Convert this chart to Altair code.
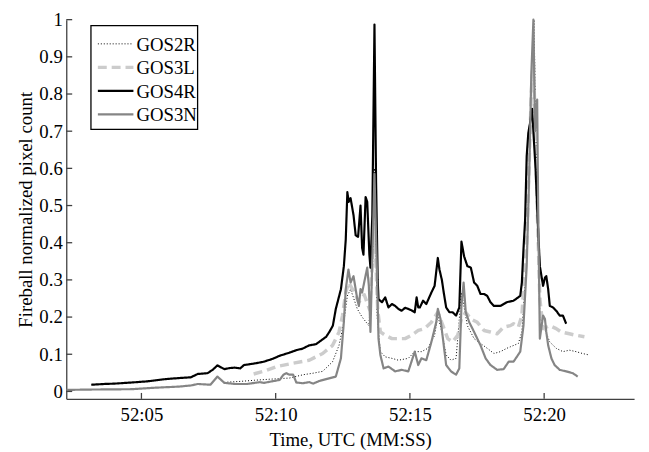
import altair as alt
import pandas as pd

# ---- data (time = seconds after 52:00 UTC, value = normalized pixel count) ----
SERIES = ["GOS2R", "GOS3L", "GOS4R", "GOS3N"]

GOS2R_T = [8.20, 8.68, 9.20, 9.80, 10.51, 11.03, 11.39, 11.75, 12.12, 12.36, 12.54, 12.67,
           12.79, 13.04, 13.22, 13.47, 13.60, 13.68, 13.78, 13.90, 14.08, 14.33, 14.57, 14.94,
           15.18, 15.43, 15.67, 15.92, 16.04, 16.19, 16.35, 16.53, 16.72, 16.92, 17.14, 17.39,
           17.63, 17.88, 18.13, 18.37, 18.61, 18.74, 19.04, 19.17, 19.35, 19.52, 19.62, 19.72,
           19.84, 20.21, 20.45, 20.70, 20.94, 21.19, 21.43, 21.68]
GOS2R_V = [0.025, 0.027, 0.030, 0.033, 0.036, 0.045, 0.049, 0.054, 0.080, 0.124, 0.186, 0.257,
           0.275, 0.222, 0.200, 0.177, 0.300, 0.600, 0.200, 0.107, 0.093, 0.089, 0.084, 0.089,
           0.107, 0.107, 0.116, 0.151, 0.204, 0.160, 0.098, 0.084, 0.089, 0.266, 0.177, 0.142,
           0.129, 0.116, 0.102, 0.107, 0.116, 0.120, 0.129, 0.160, 0.350, 0.800, 1.000, 0.600,
           0.200, 0.133, 0.116, 0.107, 0.111, 0.107, 0.102, 0.098]

GOS3L_T = [9.18, 9.60, 10.04, 10.65, 11.25, 11.75, 12.12, 12.36, 12.49, 12.61, 12.72, 12.90,
           13.10, 13.30, 13.50, 13.68, 13.80, 13.90, 14.08, 14.33, 14.57, 14.82, 15.06, 15.31,
           15.55, 15.80, 16.04, 16.23, 16.41, 16.59, 16.78, 16.92, 17.08, 17.27, 17.51, 17.76,
           18.00, 18.25, 18.49, 18.74, 18.86, 19.04, 19.17, 19.35, 19.52, 19.60, 19.74, 19.84,
           19.96, 20.21, 20.45, 20.63, 20.94, 21.19, 21.50]
GOS3L_V = [0.047, 0.055, 0.067, 0.076, 0.084, 0.102, 0.124, 0.160, 0.204, 0.266, 0.293, 0.270,
           0.240, 0.260, 0.220, 0.450, 0.220, 0.160, 0.151, 0.142, 0.142, 0.142, 0.151, 0.164,
           0.169, 0.186, 0.213, 0.177, 0.142, 0.133, 0.151, 0.195, 0.213, 0.195, 0.186, 0.164,
           0.160, 0.155, 0.173, 0.177, 0.182, 0.173, 0.204, 0.400, 0.800, 0.900, 0.500, 0.250,
           0.169, 0.177, 0.169, 0.160, 0.155, 0.151, 0.147]

GOS4R_T = [3.13, 3.60, 4.00, 4.63, 5.20, 5.88, 6.40, 6.84, 7.10, 7.46, 7.65, 7.83, 8.09, 8.30,
           8.46, 8.68, 8.82, 9.20, 9.56, 9.90, 10.15, 10.50, 10.77, 11.00, 11.25, 11.50, 11.75,
           11.88, 12.00, 12.13, 12.24, 12.43, 12.54, 12.61, 12.67, 12.72, 12.79, 12.90, 12.98,
           13.07, 13.16, 13.22, 13.27, 13.35, 13.41, 13.49, 13.53, 13.60, 13.68, 13.74, 13.80,
           13.83, 13.96, 14.08, 14.20, 14.33, 14.45, 14.57, 14.69, 14.82, 14.94, 15.06, 15.18,
           15.25, 15.31, 15.37, 15.49, 15.61, 15.80, 15.92, 16.04, 16.10, 16.19, 16.26, 16.35,
           16.47, 16.59, 16.72, 16.84, 16.92, 17.02, 17.14, 17.27, 17.39, 17.51, 17.63, 17.76,
           17.88, 18.00, 18.13, 18.37, 18.61, 18.86, 19.11, 19.17, 19.23, 19.29, 19.35, 19.41,
           19.47, 19.55, 19.68, 19.78, 19.84, 19.96, 20.03, 20.08, 20.15, 20.21, 20.33, 20.45,
           20.58, 20.70, 20.82]
GOS4R_V = [0.018, 0.020, 0.021, 0.024, 0.027, 0.033, 0.036, 0.038, 0.047, 0.049, 0.058, 0.070,
           0.060, 0.063, 0.064, 0.062, 0.071, 0.075, 0.080, 0.088, 0.096, 0.104, 0.111, 0.115,
           0.124, 0.127, 0.140, 0.147, 0.160, 0.177, 0.222, 0.275, 0.337, 0.408, 0.536, 0.510,
           0.520, 0.474, 0.420, 0.416, 0.500, 0.386, 0.368, 0.523, 0.510, 0.368, 0.333, 0.474,
           0.987, 0.563, 0.300, 0.248, 0.240, 0.253, 0.226, 0.235, 0.230, 0.222, 0.217, 0.225,
           0.222, 0.218, 0.213, 0.253, 0.226, 0.226, 0.244, 0.235, 0.266, 0.284, 0.359, 0.328,
           0.300, 0.266, 0.226, 0.213, 0.213, 0.204, 0.226, 0.403, 0.363, 0.337, 0.333, 0.293,
           0.284, 0.262, 0.262, 0.257, 0.240, 0.230, 0.230, 0.240, 0.244, 0.257, 0.293, 0.382,
           0.460, 0.633, 0.695, 0.720, 0.760, 0.600, 0.426, 0.337, 0.284, 0.306, 0.310, 0.275,
           0.230, 0.226, 0.217, 0.204, 0.204, 0.182]

GOS3N_T = [2.21, 3.00, 4.63, 5.50, 6.40, 6.84, 7.10, 7.57, 7.83, 8.09, 8.50, 8.93, 9.41, 9.56,
           10.15, 10.29, 10.40, 10.51, 10.65, 10.77, 11.00, 11.25, 11.40, 11.62, 11.88, 12.24,
           12.43, 12.54, 12.61, 12.71, 12.79, 12.90, 13.04, 13.10, 13.16, 13.22, 13.41, 13.47,
           13.53, 13.68, 13.78, 13.83, 13.90, 14.02, 14.20, 14.45, 14.69, 14.94, 15.18, 15.31,
           15.43, 15.61, 15.80, 15.98, 16.04, 16.14, 16.23, 16.35, 16.53, 16.72, 16.84, 16.92,
           17.00, 17.08, 17.21, 17.33, 17.45, 17.63, 17.82, 18.00, 18.25, 18.49, 18.68, 18.86,
           19.11, 19.23, 19.35, 19.45, 19.52, 19.60, 19.66, 19.74, 19.78, 19.84, 19.96, 20.03,
           20.08, 20.15, 20.27, 20.39, 20.58, 20.82, 21.07, 21.25]
GOS3N_V = [0.004, 0.005, 0.006, 0.010, 0.013, 0.016, 0.020, 0.018, 0.040, 0.023, 0.020, 0.020,
           0.025, 0.023, 0.031, 0.045, 0.049, 0.045, 0.045, 0.024, 0.022, 0.025, 0.021, 0.028,
           0.033, 0.040, 0.089, 0.187, 0.275, 0.328, 0.293, 0.310, 0.248, 0.230, 0.275, 0.266,
           0.333, 0.284, 0.160, 0.585, 0.300, 0.142, 0.098, 0.062, 0.067, 0.054, 0.058, 0.054,
           0.107, 0.071, 0.089, 0.084, 0.133, 0.186, 0.222, 0.195, 0.142, 0.071, 0.054, 0.045,
           0.062, 0.230, 0.293, 0.213, 0.186, 0.169, 0.151, 0.124, 0.089, 0.071, 0.058, 0.060,
           0.080, 0.080, 0.107, 0.177, 0.337, 0.600, 0.850, 1.000, 0.700, 0.785, 0.474, 0.142,
           0.204, 0.195, 0.160, 0.124, 0.089, 0.071, 0.058, 0.054, 0.049, 0.040]

X_TICKS = [5, 10, 15, 20]
Y_TICKS = [0, 0.1, 0.2, 0.3, 0.4, 0.5, 0.6, 0.7, 0.8, 0.9, 1.0]

COLORS = ["#000000", "#cccccc", "#000000", "#858585"]
DASHES = [[1, 2], [9, 5], [1, 0], [1, 0]]
WIDTHS = [1.0, 3.5, 2.2, 2.2]

frames = []
for name, ts, vs in [("GOS2R", GOS2R_T, GOS2R_V), ("GOS3L", GOS3L_T, GOS3L_V),
                     ("GOS4R", GOS4R_T, GOS4R_V), ("GOS3N", GOS3N_T, GOS3N_V)]:
    frames.append(pd.DataFrame({"t": ts, "v": vs, "series": name}))
df = pd.concat(frames, ignore_index=True)

FONT = "Liberation Serif"
AXIS_COLOR = "#404040"

x_scale = alt.Scale(domain=[2.2, 23.35], nice=False, zero=False)
y_scale = alt.Scale(domain=[-0.02, 1.0], nice=False, zero=False)

x_axis = alt.Axis(values=X_TICKS, ticks=False, tickSize=0, grid=False,
                  labelExpr="'52:' + (datum.value < 10 ? '0' : '') + datum.value",
                  labelFont=FONT, labelFontSize=19, labelColor="black", labelPadding=7,
                  domainColor=AXIS_COLOR, domainWidth=1.3,
                  title="Time, UTC (MM:SS)", titleFont=FONT, titleFontSize=19,
                  titleFontWeight="normal", titleColor="black",
                  titleBaseline="alphabetic", titleY=47)
y_axis = alt.Axis(values=Y_TICKS, ticks=False, tickSize=0, grid=False, format="~g",
                  labelFont=FONT, labelFontSize=19, labelColor="black", labelPadding=4,
                  domainColor=AXIS_COLOR, domainWidth=1.3,
                  title="Fireball normalized pixel count", titleFont=FONT, titleFontSize=19,
                  titleFontWeight="normal", titleColor="black",
                  titleBaseline="alphabetic", titleX=-35, titleY=192, titleAngle=270)

color_enc = alt.Color("series:N", scale=alt.Scale(domain=SERIES, range=COLORS), legend=None)
dash_enc = alt.StrokeDash("series:N", scale=alt.Scale(domain=SERIES, range=DASHES), legend=None)
width_enc = alt.StrokeWidth("series:N", scale=alt.Scale(type="ordinal", domain=SERIES, range=WIDTHS),
                            legend=None)

layers = []
for name in SERIES:
    layers.append(
        alt.Chart(df).transform_filter(alt.datum.series == name).mark_line(strokeJoin="round").encode(
            x=alt.X("t:Q", scale=x_scale, axis=x_axis),
            y=alt.Y("v:Q", scale=y_scale, axis=y_axis),
            color=color_enc, strokeDash=dash_enc, strokeWidth=width_enc,
            order="t:Q",
        )
    )

xt = alt.Chart(pd.DataFrame({"t": X_TICKS})).mark_rule(color=AXIS_COLOR, strokeWidth=1.3).encode(
    x=alt.X("t:Q", scale=x_scale, axis=x_axis), y=alt.value(384), y2=alt.value(378))
yt = alt.Chart(pd.DataFrame({"v": Y_TICKS})).mark_rule(color=AXIS_COLOR, strokeWidth=1.3).encode(
    y=alt.Y("v:Q", scale=y_scale, axis=y_axis), x=alt.value(0), x2=alt.value(6))

# ---- legend (boxed, drawn in plot-area pixels) ----
leg_df = pd.DataFrame({"series": SERIES})
leg_layers = [
    alt.Chart(leg_df.head(1)).mark_rect(fill="white", stroke="black", strokeWidth=1.3).encode(
        x=alt.value(25), x2=alt.value(133), y=alt.value(6), y2=alt.value(111))
]
for i, name in enumerate(SERIES):
    row_y = 24.5 + 23.8 * i
    one = leg_df[leg_df.series == name]
    leg_layers.append(
        alt.Chart(one).mark_rule(color=COLORS[i], strokeDash=DASHES[i], strokeWidth=WIDTHS[i]).encode(
            x=alt.value(32), x2=alt.value(68), y=alt.value(row_y))
    )
    leg_layers.append(
        alt.Chart(one).mark_text(font=FONT, fontSize=19, color="black", align="left",
                                 baseline="middle").encode(
            x=alt.value(71), y=alt.value(row_y + 1), text="series:N")
    )

chart = alt.layer(*layers, xt, yt, *leg_layers).properties(
    width=575, height=384,
    padding={"left": 59, "top": 9, "right": 7, "bottom": 51},
    autosize=alt.AutoSizeParams(type="none"),
).configure_view(strokeWidth=0)

chart.save("out.html", embed_options={"renderer": "svg", "actions": False})
